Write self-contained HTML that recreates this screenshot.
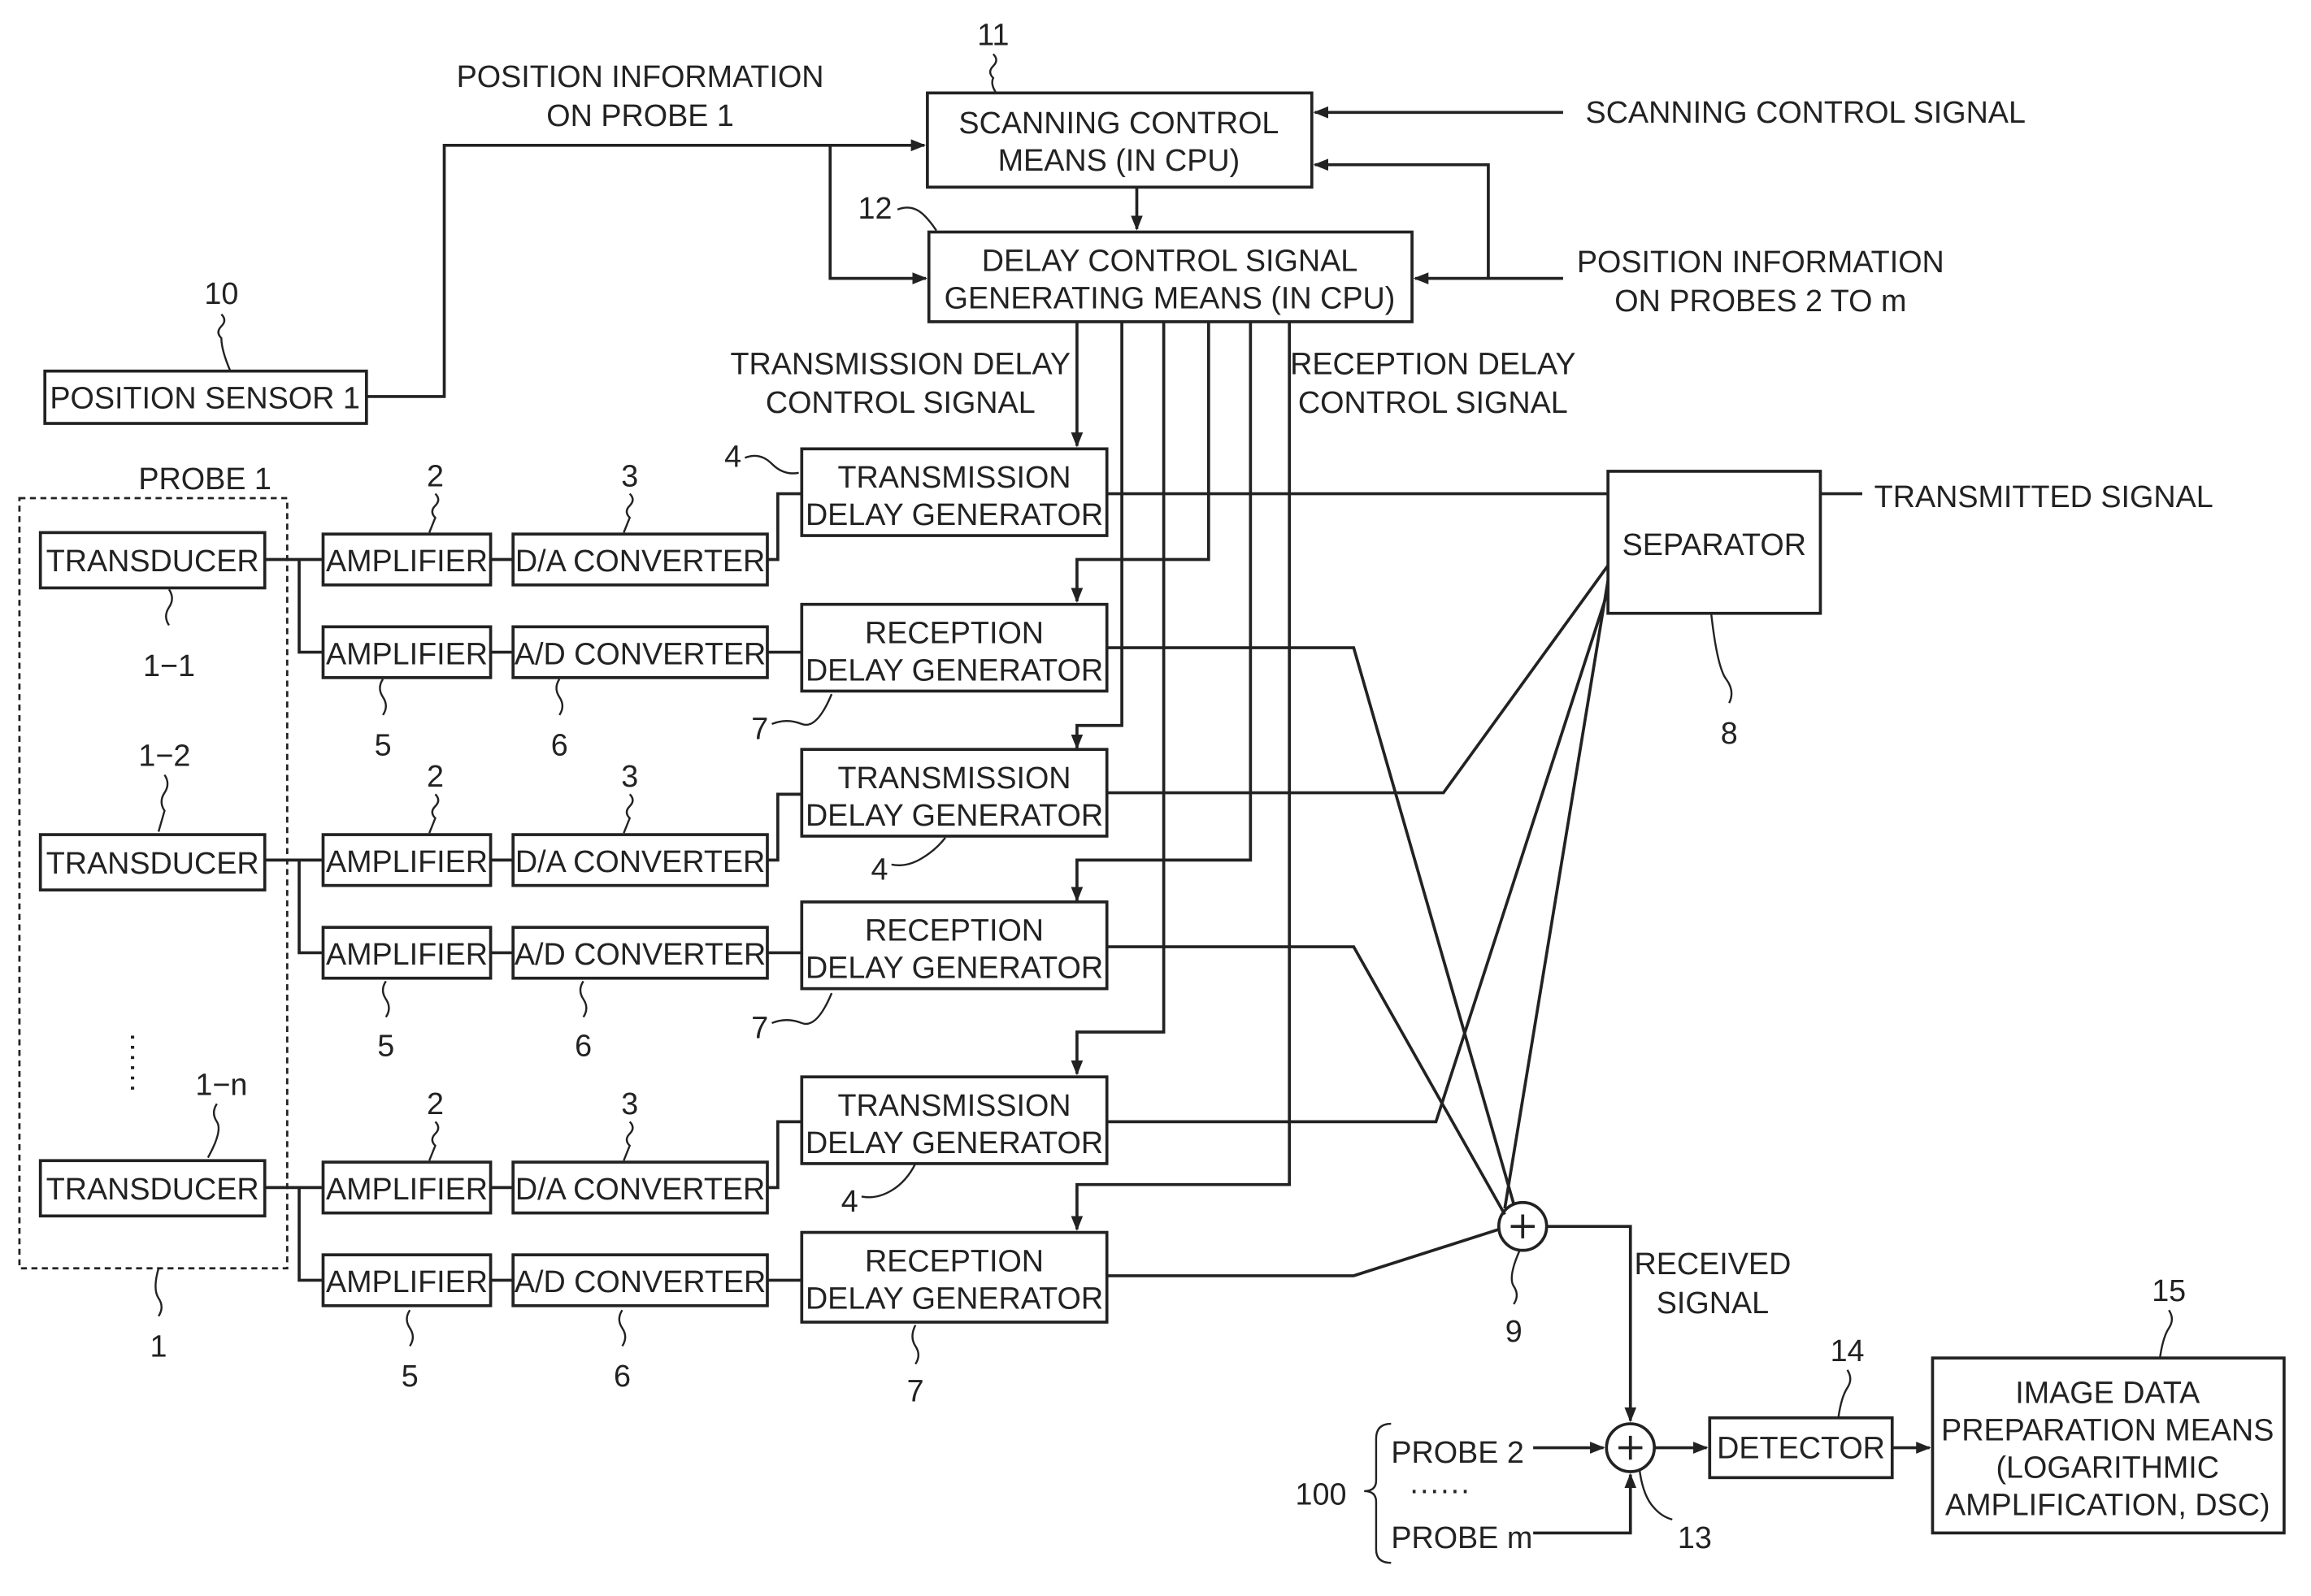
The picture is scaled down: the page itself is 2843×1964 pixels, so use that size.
<!DOCTYPE html>
<html><head><meta charset="utf-8"><style>
html,body{margin:0;padding:0;background:#fff}
svg{display:block}
text{font-family:"Liberation Sans",sans-serif;font-size:20.5px;fill:#222}
.b{fill:#fff;stroke:#222;stroke-width:2}
.l{fill:none;stroke:#222;stroke-width:2}
.s{fill:none;stroke:#222;stroke-width:1.3}
</style></head><body>
<svg width="2843" height="1964" viewBox="0 0 1545 1067" xmlns="http://www.w3.org/2000/svg">
<defs><marker id="a" markerWidth="10" markerHeight="8" refX="9" refY="4" orient="auto" markerUnits="userSpaceOnUse"><path d="M0,0 L10,4 L0,8 z" fill="#222"/></marker></defs>

<rect class="b" x="620" y="62" width="257" height="63"/>
<text x="748" y="89" text-anchor="middle">SCANNING CONTROL</text>
<text x="748" y="114" text-anchor="middle">MEANS (IN CPU)</text>
<rect class="b" x="621" y="155" width="323" height="60"/>
<text x="782" y="181" text-anchor="middle">DELAY CONTROL SIGNAL</text>
<text x="782" y="206" text-anchor="middle">GENERATING MEANS (IN CPU)</text>
<rect class="b" x="30" y="248" width="215" height="35"/>
<text x="137" y="273" text-anchor="middle">POSITION SENSOR 1</text>
<rect x="13" y="333" width="179" height="515" fill="none" stroke="#222" stroke-width="1.5" stroke-dasharray="4,3"/>
<text x="137" y="327" text-anchor="middle">PROBE 1</text>

<g>
<rect class="b" x="27" y="356" width="150" height="37"/><text x="102" y="382" text-anchor="middle">TRANSDUCER</text>
<rect class="b" x="27" y="558" width="150" height="37"/><text x="102" y="584" text-anchor="middle">TRANSDUCER</text>
<rect class="b" x="27" y="776" width="150" height="37"/><text x="102" y="802" text-anchor="middle">TRANSDUCER</text>
</g>

<g id="r1">
<rect class="b" x="216" y="357" width="112" height="34"/><text x="272" y="382" text-anchor="middle">AMPLIFIER</text>
<rect class="b" x="216" y="419" width="112" height="34"/><text x="272" y="444" text-anchor="middle">AMPLIFIER</text>
<rect class="b" x="343" y="357" width="170" height="34"/><text x="428" y="382" text-anchor="middle">D/A CONVERTER</text>
<rect class="b" x="343" y="419" width="170" height="34"/><text x="428" y="444" text-anchor="middle">A/D CONVERTER</text>
<rect class="b" x="536" y="300" width="204" height="58"/><text x="638" y="326" text-anchor="middle">TRANSMISSION</text><text x="638" y="351" text-anchor="middle">DELAY GENERATOR</text>
<rect class="b" x="536" y="404" width="204" height="58"/><text x="638" y="430" text-anchor="middle">RECEPTION</text><text x="638" y="455" text-anchor="middle">DELAY GENERATOR</text>
<path class="l" d="M177,374H216 M200,374V436H216 M328,374H343 M328,436H343 M513,374H520V330H536 M513,436H536"/>
</g>
<g transform="translate(0,201)">
<rect class="b" x="216" y="357" width="112" height="34"/><text x="272" y="382" text-anchor="middle">AMPLIFIER</text>
<rect class="b" x="216" y="419" width="112" height="34"/><text x="272" y="444" text-anchor="middle">AMPLIFIER</text>
<rect class="b" x="343" y="357" width="170" height="34"/><text x="428" y="382" text-anchor="middle">D/A CONVERTER</text>
<rect class="b" x="343" y="419" width="170" height="34"/><text x="428" y="444" text-anchor="middle">A/D CONVERTER</text>
<rect class="b" x="536" y="300" width="204" height="58"/><text x="638" y="326" text-anchor="middle">TRANSMISSION</text><text x="638" y="351" text-anchor="middle">DELAY GENERATOR</text>
<rect class="b" x="536" y="402" width="204" height="58"/><text x="638" y="428" text-anchor="middle">RECEPTION</text><text x="638" y="453" text-anchor="middle">DELAY GENERATOR</text>
<path class="l" d="M177,374H216 M200,374V436H216 M328,374H343 M328,436H343 M513,374H520V330H536 M513,436H536"/>
</g>
<g transform="translate(0,420)">
<rect class="b" x="216" y="357" width="112" height="34"/><text x="272" y="382" text-anchor="middle">AMPLIFIER</text>
<rect class="b" x="216" y="419" width="112" height="34"/><text x="272" y="444" text-anchor="middle">AMPLIFIER</text>
<rect class="b" x="343" y="357" width="170" height="34"/><text x="428" y="382" text-anchor="middle">D/A CONVERTER</text>
<rect class="b" x="343" y="419" width="170" height="34"/><text x="428" y="444" text-anchor="middle">A/D CONVERTER</text>
<rect class="b" x="536" y="300" width="204" height="58"/><text x="638" y="326" text-anchor="middle">TRANSMISSION</text><text x="638" y="351" text-anchor="middle">DELAY GENERATOR</text>
<rect class="b" x="536" y="404" width="204" height="60"/><text x="638" y="430" text-anchor="middle">RECEPTION</text><text x="638" y="455" text-anchor="middle">DELAY GENERATOR</text>
<path class="l" d="M177,374H216 M200,374V436H216 M328,374H343 M328,436H343 M513,374H520V330H536 M513,436H536"/>
</g>

<rect class="b" x="1075" y="315" width="142" height="95"/><text x="1146" y="371" text-anchor="middle">SEPARATOR</text>
<rect class="b" x="1143" y="948" width="122" height="40"/><text x="1204" y="975" text-anchor="middle">DETECTOR</text>
<rect class="b" x="1292" y="908" width="235" height="117"/>
<text x="1409" y="938" text-anchor="middle">IMAGE DATA</text>
<text x="1409" y="963" text-anchor="middle">PREPARATION MEANS</text>
<text x="1409" y="988" text-anchor="middle">(LOGARITHMIC</text>
<text x="1409" y="1013" text-anchor="middle">AMPLIFICATION, DSC)</text>

<circle class="b" cx="1018" cy="820" r="16"/><path class="l" d="M1010,820H1026M1018,812V828"/>
<circle class="b" cx="1090" cy="968" r="16"/><path class="l" d="M1082,968H1098M1090,960V976"/>

<path class="l" d="M245,265H297V97H618" marker-end="url(#a)"/>
<path class="l" d="M555,97V186H619" marker-end="url(#a)"/>
<path class="l" d="M1045,75H879" marker-end="url(#a)"/>
<path class="l" d="M1045,186H946" marker-end="url(#a)"/>
<path class="l" d="M995,186V110H879" marker-end="url(#a)"/>
<path class="l" d="M760,125V153" marker-end="url(#a)"/>

<path class="l" d="M720,215V298" marker-end="url(#a)"/>
<path class="l" d="M808,215V374H720V402" marker-end="url(#a)"/>
<path class="l" d="M750,215V485H720V500" marker-end="url(#a)"/>
<path class="l" d="M836,215V575H720V602" marker-end="url(#a)"/>
<path class="l" d="M778,215V690H720V718" marker-end="url(#a)"/>
<path class="l" d="M862,215V792H720V822" marker-end="url(#a)"/>

<path class="l" d="M740,330H1075 M1217,330H1245"/>
<path class="l" d="M740,530H965L1075,378"/>
<path class="l" d="M740,750H960L1075,395"/>
<path class="l" d="M1075,388L1006,808"/>
<path class="l" d="M740,433H905L1012,805"/>
<path class="l" d="M740,633H905L1006,812"/>
<path class="l" d="M740,853H905L1002,822"/>
<path class="l" d="M1034,820H1090V950" marker-end="url(#a)"/>
<path class="l" d="M1025,968H1072" marker-end="url(#a)"/>
<path class="l" d="M1025,1025H1090V986" marker-end="url(#a)"/>
<path class="l" d="M1106,968H1141" marker-end="url(#a)"/>
<path class="l" d="M1265,968H1290" marker-end="url(#a)"/>

<text x="428" y="58" text-anchor="middle">POSITION INFORMATION</text>
<text x="428" y="84" text-anchor="middle">ON PROBE 1</text>
<text x="1060" y="82">SCANNING CONTROL SIGNAL</text>
<text x="1177" y="182" text-anchor="middle">POSITION INFORMATION</text>
<text x="1177" y="208" text-anchor="middle">ON PROBES 2 TO m</text>
<text x="602" y="250" text-anchor="middle">TRANSMISSION DELAY</text>
<text x="602" y="276" text-anchor="middle">CONTROL SIGNAL</text>
<text x="958" y="250" text-anchor="middle">RECEPTION DELAY</text>
<text x="958" y="276" text-anchor="middle">CONTROL SIGNAL</text>
<text x="1253" y="339">TRANSMITTED SIGNAL</text>
<text x="1145" y="852" text-anchor="middle">RECEIVED</text>
<text x="1145" y="878" text-anchor="middle">SIGNAL</text>
<text x="930" y="978">PROBE 2</text>
<text x="930" y="1035">PROBE m</text>
<text x="942" y="1003">······</text>
<text x="866" y="1006" font-size="24">100</text>
<path class="s" d="M930,952Q920,952 920,962V990Q920,997 912,997Q920,997 920,1004V1036Q920,1045 930,1045"/>
<text x="103" y="710" transform="rotate(90 103 690)">······</text>

<g font-size="24">
<text x="664" y="30" text-anchor="middle">11</text>
<text x="585" y="146" text-anchor="middle">12</text>
<text x="148" y="203" text-anchor="middle">10</text>
<text x="291" y="325" text-anchor="middle">2</text>
<text x="421" y="325" text-anchor="middle">3</text>
<text x="490" y="312" text-anchor="middle">4</text>
<text x="113" y="452" text-anchor="middle">1−1</text>
<text x="110" y="512" text-anchor="middle">1−2</text>
<text x="148" y="732" text-anchor="middle">1−n</text>
<text x="256" y="505" text-anchor="middle">5</text>
<text x="374" y="505" text-anchor="middle">6</text>
<text x="508" y="494" text-anchor="middle">7</text>
<text x="291" y="526" text-anchor="middle">2</text>
<text x="421" y="526" text-anchor="middle">3</text>
<text x="588" y="588" text-anchor="middle">4</text>
<text x="258" y="706" text-anchor="middle">5</text>
<text x="390" y="706" text-anchor="middle">6</text>
<text x="508" y="694" text-anchor="middle">7</text>
<text x="291" y="745" text-anchor="middle">2</text>
<text x="421" y="745" text-anchor="middle">3</text>
<text x="568" y="810" text-anchor="middle">4</text>
<text x="274" y="927" text-anchor="middle">5</text>
<text x="416" y="927" text-anchor="middle">6</text>
<text x="612" y="937" text-anchor="middle">7</text>
<text x="106" y="907" text-anchor="middle">1</text>
<text x="1156" y="497" text-anchor="middle">8</text>
<text x="1012" y="897" text-anchor="middle">9</text>
<text x="1133" y="1035" text-anchor="middle">13</text>
<text x="1235" y="910" text-anchor="middle">14</text>
<text x="1450" y="870" text-anchor="middle">15</text>
</g>
<path class="s" d="M664,36q4,4 0,8t0,8q-2,4 2,10"/>
<path class="s" d="M600,140q10,-4 18,4q4,4 8,10"/>
<path class="s" d="M148,210q4,4 0,8t0,8q0,8 6,22"/>
<path class="s" d="M291,330q4,4 0,8t0,8l-4,10"/>
<path class="s" d="M421,330q4,4 0,8t0,8l-4,10"/>
<path class="s" d="M498,306q10,-4 18,4t18,6"/>
<path class="s" d="M113,394q4,6 0,12t0,12"/>
<path class="s" d="M110,518q4,6 0,12t0,12l-4,14"/>
<path class="s" d="M145,738q-4,6 0,12t-6,24"/>
<path class="s" d="M256,478q4,-6 0,-12t0,-12"/>
<path class="s" d="M374,478q4,-6 0,-12t0,-12"/>
<path class="s" d="M516,484q10,-4 20,0t20,-20"/>
<path class="s" d="M291,531q4,4 0,8t0,8l-4,10"/>
<path class="s" d="M421,531q4,4 0,8t0,8l-4,10"/>
<path class="s" d="M596,578q10,2 20,-4t16,-14"/>
<path class="s" d="M258,680q4,-6 0,-12t0,-12"/>
<path class="s" d="M390,680q4,-6 0,-12t0,-12"/>
<path class="s" d="M516,684q10,-4 20,0t20,-20"/>
<path class="s" d="M291,750q4,4 0,8t0,8l-4,10"/>
<path class="s" d="M421,750q4,4 0,8t0,8l-4,10"/>
<path class="s" d="M576,800q10,2 20,-4t16,-18"/>
<path class="s" d="M274,900q4,-6 0,-12t0,-12"/>
<path class="s" d="M416,900q4,-6 0,-12t0,-12"/>
<path class="s" d="M612,912q4,-6 0,-12t0,-14"/>
<path class="s" d="M106,880q4,-6 0,-12t0,-20"/>
<path class="s" d="M1156,470q4,-8 -2,-16t-10,-44"/>
<path class="s" d="M1012,872q4,-6 0,-12t4,-24"/>
<path class="s" d="M1118,1016q-8,-2 -14,-10t-8,-24"/>
<path class="s" d="M1235,916q4,6 0,12t-6,20"/>
<path class="s" d="M1450,876q4,6 0,12t-6,20"/>
</svg>
</body></html>
